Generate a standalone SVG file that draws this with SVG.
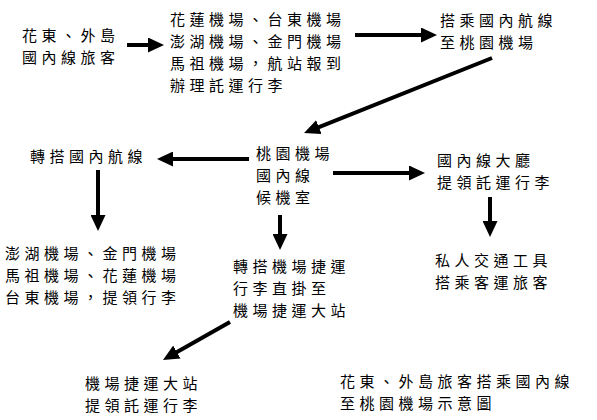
<svg xmlns="http://www.w3.org/2000/svg" width="597" height="420" viewBox="0 0 597 420">
<style>
text{font-family:"Noto Sans CJK TC","Noto Sans CJK SC",sans-serif;font-size:15px;letter-spacing:4.5px;fill:#000}
.c{stroke:#000;stroke-width:4;fill:none;marker-end:url(#ah)}
</style>
<defs>
<marker id="ah" markerUnits="userSpaceOnUse" markerWidth="16" markerHeight="15" refX="10" refY="7.5" orient="auto">
<path d="M0,0 L16,7.5 L0,15 z" fill="#000"/>
</marker>
</defs>
<rect width="597" height="420" fill="#fff"/>
<g id="connectors">
<line class="c" x1="127" y1="45" x2="158" y2="45"/>
<line class="c" x1="355" y1="35" x2="431" y2="35"/>
<line class="c" x1="492" y1="58" x2="309.6" y2="130.8"/>
<line class="c" x1="249" y1="159" x2="163" y2="159"/>
<line class="c" x1="98" y1="170" x2="98" y2="225"/>
<line class="c" x1="280" y1="215" x2="280" y2="244"/>
<line class="c" x1="333" y1="173" x2="419" y2="173"/>
<line class="c" x1="490" y1="197" x2="490" y2="231"/>
<line class="c" x1="230" y1="322" x2="168.2" y2="357"/>
</g>
<g id="n1"><text x="22" y="41">花東、外島</text><text x="22" y="63">國內線旅客</text></g>
<g id="n2"><text x="170" y="25">花蓮機場、台東機場</text><text x="170" y="47">澎湖機場、金門機場</text><text x="170" y="69">馬祖機場，航站報到</text><text x="170" y="91">辦理託運行李</text></g>
<g id="n3"><text x="440" y="26">搭乘國內航線</text><text x="440" y="48">至桃園機場</text></g>
<g id="n4"><text x="256" y="159">桃園機場</text><text x="256" y="181">國內線</text><text x="256" y="203">候機室</text></g>
<g id="n5"><text x="30" y="162">轉搭國內航線</text></g>
<g id="n6"><text x="5" y="259">澎湖機場、金門機場</text><text x="5" y="281">馬祖機場、花蓮機場</text><text x="5" y="303">台東機場，提領行李</text></g>
<g id="n7"><text x="233" y="272">轉搭機場捷運</text><text x="233" y="294">行李直掛至</text><text x="233" y="316">機場捷運大站</text></g>
<g id="n8"><text x="437" y="166">國內線大廳</text><text x="437" y="188">提領託運行李</text></g>
<g id="n9"><text x="435" y="266">私人交通工具</text><text x="435" y="288">搭乘客運旅客</text></g>
<g id="n10"><text x="85" y="389">機場捷運大站</text><text x="85" y="411">提領託運行李</text></g>
<g id="caption"><text x="340" y="387">花東、外島旅客搭乘國內線</text><text x="340" y="409">至桃園機場示意圖</text></g>
</svg>
